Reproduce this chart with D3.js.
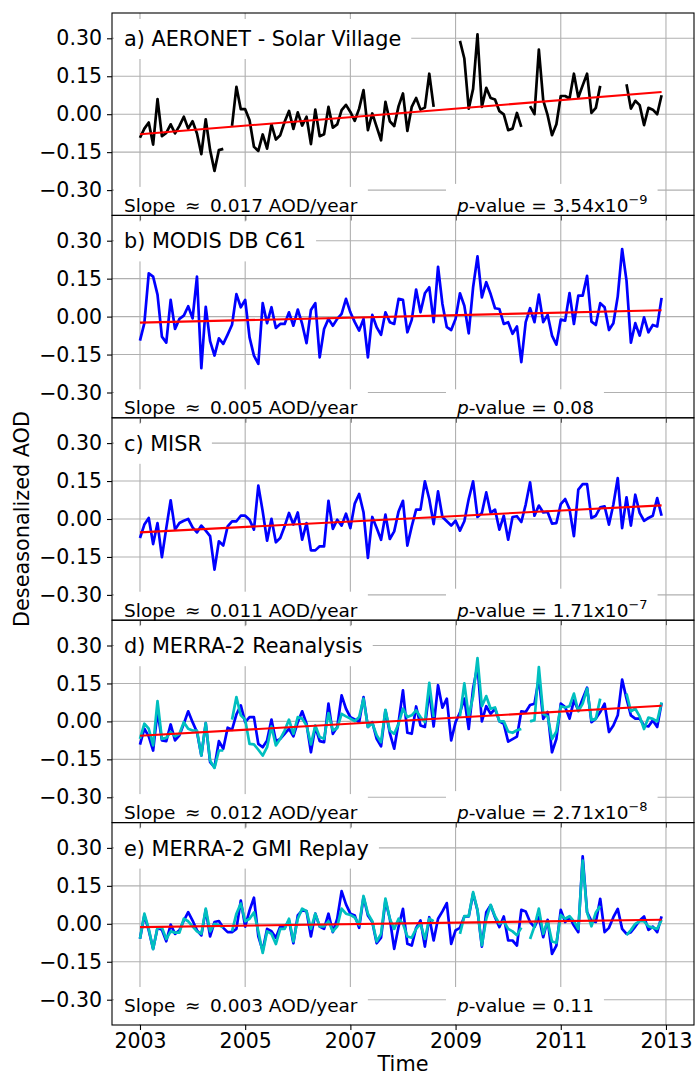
<!DOCTYPE html>
<html>
<head>
<meta charset="utf-8">
<script src="https://d3js.org/d3.v7.min.js"></script>
<style>
  body { margin: 0; background: #fff; }
  text { font-family: "DejaVu Sans", sans-serif; fill: #000; }
</style>
</head>
<body>
<script>
// monthly deseasonalized AOD, Jan 2003 - Dec 2012 (null = no data)
var startYear = 2003;

var aeronet = [-0.093, -0.057, -0.033, -0.12, 0.06, -0.087, -0.074, -0.04, -0.076, -0.046,
  -0.01, -0.057, -0.028, -0.076, -0.158, -0.02, -0.142, -0.224, -0.142, -0.137,
  null, -0.046, 0.108, 0.02, 0.02, -0.024, -0.129, -0.145, -0.08, -0.136,
  -0.04, -0.1, -0.083, -0.03, 0.013, -0.058, 0.007, -0.045, -0.01, -0.118,
  0.018, -0.087, -0.079, 0.029, -0.053, -0.04, 0.016, 0.037, 0.009, -0.026,
  0.022, 0.095, -0.063, 0.003, -0.05, -0.103, 0.049, -0.028, -0.047, 0.032,
  0.082, -0.066, 0.029, 0.064, 0.018, 0.026, 0.16, 0.029, null, null,
  null, null, null, 0.29, 0.22, 0.022, 0.1, 0.316, 0.029, 0.104,
  0.064, 0.058, 0.012, -0.001, -0.063, -0.057, 0.005, -0.05, null, 0.032,
  0.0, 0.255, 0.055, -0.004, -0.083, -0.04, 0.072, 0.072, 0.062, 0.16,
  0.066, 0.114, 0.16, 0.005, 0.025, 0.112, null, null, null, null,
  null, 0.118, 0.022, 0.053, 0.036, -0.043, 0.025, 0.018, 0.0, 0.075];

var modis = [-0.095, -0.026, 0.171, 0.158, 0.087, -0.079, -0.103, 0.066, -0.049, -0.009,
  0.004, 0.041, -0.007, 0.158, -0.204, 0.039, -0.097, -0.154, -0.086, -0.108,
  -0.071, -0.032, 0.089, 0.037, 0.066, -0.082, -0.154, -0.187, 0.053, -0.026,
  0.037, -0.045, -0.029, -0.029, 0.017, -0.036, 0.028, -0.029, -0.105, 0.026,
  0.053, -0.161, -0.049, -0.009, -0.036, -0.009, 0.011, 0.07, 0.017, -0.022,
  -0.055, -0.009, -0.161, 0.007, -0.042, -0.072, 0.017, -0.022, -0.029, 0.07,
  0.066, -0.062, -0.013, 0.107, 0.017, 0.092, 0.116, -0.022, 0.197, 0.05,
  -0.042, -0.053, -0.009, 0.092, 0.043, -0.066, 0.116, 0.238, 0.076, 0.136,
  0.089, 0.033, 0.03, -0.029, -0.022, -0.068, -0.039, -0.18, -0.022, 0.033,
  -0.022, 0.087, -0.022, 0.007, -0.075, -0.111, -0.012, -0.016, 0.093, -0.029,
  0.083, 0.083, 0.161, -0.02, -0.033, 0.053, 0.037, -0.053, -0.026, 0.08,
  0.267, 0.142, -0.103, -0.026, -0.075, -0.003, -0.062, -0.033, -0.039, 0.074];

var misr = [-0.075, -0.022, 0.004, -0.099, -0.016, -0.151, -0.036, 0.074, -0.042, -0.016,
  -0.007, 0.0, -0.033, -0.053, -0.026, -0.046, -0.068, -0.2, -0.088, -0.105,
  -0.029, -0.009, -0.009, 0.013, 0.013, -0.003, -0.042, 0.132, 0.03, -0.086,
  0.001, -0.092, -0.075, -0.029, 0.024, -0.022, 0.026, -0.082, -0.016, -0.124,
  -0.124, -0.108, -0.108, 0.072, -0.039, -0.003, -0.026, 0.021, -0.036, 0.061,
  0.099, 0.026, -0.154, 0.008, -0.036, -0.082, 0.017, -0.079, -0.049, 0.03,
  0.072, -0.105, -0.029, 0.037, 0.037, 0.149, 0.079, -0.02, 0.109, 0.008,
  -0.009, -0.026, -0.007, -0.046, -0.009, 0.079, 0.149, 0.008, 0.024, 0.105,
  0.024, 0.037, -0.042, 0.013, -0.082, 0.008, 0.011, -0.012, 0.057, 0.145,
  0.013, 0.053, 0.026, 0.028, -0.018, -0.016, 0.059, 0.079, 0.039, -0.068,
  0.116, 0.138, 0.138, 0.004, 0.013, 0.046, 0.05, -0.022, 0.057, 0.162,
  -0.036, 0.086, -0.026, 0.096, 0.024, -0.007, 0.004, 0.013, 0.083, 0.013];

var merra2 = [-0.092, -0.029, -0.059, -0.115, 0.04, -0.075, -0.078, -0.012, -0.075, -0.055,
  -0.009, 0.04, -0.003, -0.042, -0.135, -0.007, -0.161, -0.181, -0.078, -0.108,
  -0.025, -0.033, 0.028, 0.063, -0.003, 0.017, 0.017, -0.089, -0.102, -0.075,
  0.007, -0.078, -0.069, -0.049, -0.029, -0.059, -0.003, 0.04, -0.009, -0.122,
  -0.022, -0.078, -0.082, 0.07, -0.049, -0.022, 0.103, 0.05, 0.017, 0.008,
  -0.003, 0.096, -0.022, -0.003, -0.069, -0.099, 0.044, -0.046, -0.108, -0.003,
  0.123, -0.045, -0.049, 0.059, -0.016, -0.022, 0.12, -0.02, 0.143, 0.054,
  0.09, -0.075, -0.003, 0.035, 0.09, -0.03, 0.13, 0.22, 0.0, 0.06,
  0.03, 0.05, 0.0, -0.01, -0.08, -0.07, -0.06, 0.04, 0.037, 0.065,
  0.07, 0.17, 0.01, 0.037, -0.122, -0.069, 0.07, 0.057, 0.011, 0.083,
  0.044, 0.09, 0.133, -0.003, 0.011, 0.037, 0.07, -0.042, -0.016, 0.024,
  0.165, 0.09, 0.024, 0.011, 0.011, -0.016, -0.02, 0.004, -0.022, 0.073];

// MERRA-2 sampled at AERONET months
var merra2Site = [-0.069, -0.009, -0.029, -0.095, 0.08, -0.069, -0.065, -0.042, -0.059, -0.049,
  -0.003, -0.029, -0.036, -0.036, -0.135, -0.007, -0.155, -0.184, -0.115, -0.115,
  null, 0.007, 0.096, 0.024, 0.007, -0.089, -0.091, -0.112, -0.135, -0.102,
  -0.02, -0.095, -0.069, -0.036, 0.007, -0.049, 0.017, 0.011, -0.016, -0.091,
  -0.016, -0.062, -0.069, 0.033, -0.036, -0.026, 0.03, 0.02, 0.011, 0.001,
  0.017, 0.09, -0.022, -0.007, -0.055, -0.082, 0.046, -0.036, -0.049, -0.009,
  0.05, 0.017, 0.024, 0.044, 0.017, -0.003, 0.152, 0.017, null, null,
  null, null, null, 0.02, 0.15, 0.02, 0.1, 0.25, 0.06, 0.1,
  0.05, 0.055, 0.0, 0.0, -0.04, -0.045, -0.035, -0.03, null, 0.0,
  0.005, 0.215, 0.03, 0.02, -0.07, -0.04, 0.06, 0.055, 0.06, 0.11,
  0.04, 0.07, 0.13, 0.005, 0.01, 0.09, null, null, null, null,
  null, 0.11, 0.04, 0.05, 0.02, -0.03, 0.015, 0.01, 0.0, 0.075];

var gmi = [-0.059, 0.033, -0.026, -0.099, -0.016, -0.024, -0.069, -0.003, -0.04, -0.026,
  0.013, 0.046, 0.013, -0.026, -0.046, 0.055, -0.05, 0.007, 0.011, -0.016,
  -0.033, -0.033, -0.02, 0.092, -0.011, 0.053, 0.103, -0.05, -0.106, -0.02,
  -0.029, -0.055, -0.011, -0.016, 0.013, -0.077, 0.033, 0.053, 0.05, -0.05,
  0.04, -0.011, -0.02, 0.04, -0.033, 0.02, 0.129, 0.077, 0.04, 0.033,
  -0.016, 0.106, 0.033, 0.007, -0.077, -0.055, 0.092, 0.02, -0.099, -0.011,
  0.059, -0.079, -0.086, -0.016, 0.013, -0.09, 0.026, -0.066, 0.02, 0.049,
  0.082, -0.079, -0.026, -0.016, 0.029, 0.029, 0.119, 0.053, -0.09, 0.046,
  0.073, 0.026, -0.013, 0.029, -0.066, -0.066, -0.086, 0.055, 0.049, 0.007,
  -0.013, 0.026, -0.053, 0.016, -0.119, -0.086, 0.055, 0.007, 0.026, -0.007,
  -0.033, 0.267, 0.046, 0.011, 0.007, 0.099, -0.033, -0.016, 0.026, 0.059,
  -0.02, -0.04, -0.033, -0.011, 0.013, 0.029, -0.024, -0.011, -0.033, 0.029];

var gmiSite = [-0.059, 0.04, -0.02, -0.1, -0.015, -0.015, -0.06, -0.03, -0.035, -0.035,
  0.02, 0.01, -0.01, -0.03, -0.04, 0.06, -0.03, 0.0, -0.005, -0.015,
  null, -0.03, 0.04, 0.08, 0.01, 0.02, 0.045, -0.03, -0.115, -0.03,
  -0.04, -0.08, -0.02, -0.02, 0.02, -0.07, 0.02, 0.06, 0.05, -0.02,
  0.04, -0.01, -0.01, 0.01, -0.03, -0.01, 0.06, 0.04, 0.035, 0.025,
  -0.005, 0.11, 0.04, 0.01, -0.07, -0.04, 0.1, 0.02, -0.02, 0.02,
  0.0, -0.05, -0.055, -0.02, 0.0, -0.06, 0.02, 0.01, null, null,
  null, null, null, -0.04, 0.03, 0.03, 0.125, 0.055, -0.085, 0.02,
  0.075, 0.03, 0.0, 0.01, -0.02, -0.03, -0.045, -0.015, null, -0.06,
  -0.01, 0.06, -0.04, 0.01, -0.07, -0.075, 0.035, 0.02, 0.03, 0.01,
  -0.02, 0.25, 0.045, -0.01, 0.045, 0.07, null, null, null, null,
  null, -0.045, -0.025, 0.0, 0.01, 0.01, -0.01, -0.015, -0.02, 0.015];

// linear trend, value at first and last month
var trendStart = [-0.079, -0.024, -0.053, -0.057, -0.013];
var trendEnd = [0.088, 0.025, 0.054, 0.062, 0.016];

var panelTitles = ["a) AERONET - Solar Village", "b) MODIS DB C61", "c) MISR",
  "d) MERRA-2 Reanalysis", "e) MERRA-2 GMI Replay"];
var slopes = ["0.017", "0.005", "0.011", "0.012", "0.003"];
var pValues = ["3.54x10", "0.08", "1.71x10", "2.71x10", "0.11"];
var pExponents = ["\u22129", "", "\u22127", "\u22128", ""];

var xTicks = [2003, 2005, 2007, 2009, 2011, 2013];
var yTicks = [-0.30, -0.15, 0.00, 0.15, 0.30];

// Chart Params
var svgWidth = 696;
var svgHeight = 1077;
var margin = { top: 13, right: 2, bottom: 52, left: 112 };
var width = svgWidth - margin.left - margin.right;
var panelHeight = (svgHeight - margin.top - margin.bottom) / 5;

var panels = [
  [{ values: aeronet, color: "#000000" }],
  [{ values: modis, color: "#0000ff" }],
  [{ values: misr, color: "#0000ff" }],
  [{ values: merra2, color: "#0000ff" }, { values: merra2Site, color: "#00bfbf" }],
  [{ values: gmi, color: "#0000ff" }, { values: gmiSite, color: "#00bfbf" }]
];

var dates = aeronet.map((d, i) => startYear + i / 12);

// axis runs from a bit before the first month to a bit after the last one
var x = d3.scaleLinear()
  .domain([2002.468, 2013.533])
  .range([0, width]);

var y = d3.scaleLinear().domain([-0.4, 0.4]).range([panelHeight, 0]);

var svg = d3.select("body")
  .append("svg")
  .attr("width", svgWidth)
  .attr("height", svgHeight);

var line = d3.line()
  .defined(d => d != null)
  .x((d, j) => x(dates[j]))
  .y(d => y(d));

// white box behind a text, like a matplotlib bbox
function boxIt(g, t, pad) {
  var b = t.node().getBBox();
  g.insert("rect", function() { return t.node(); })
    .attr("x", b.x - pad)
    .attr("y", b.y - pad + 2)
    .attr("width", b.width + 2 * pad)
    .attr("height", b.height + 2 * pad - 4)
    .attr("fill", "#ffffff");
}

panels.forEach(function(series, i) {
  var g = svg.append("g")
    .attr("transform", `translate(${margin.left}, ${margin.top + i * panelHeight})`);

  // grid
  g.selectAll(".hgrid").data(yTicks).enter().append("line")
    .attr("x1", 0).attr("x2", width)
    .attr("y1", d => y(d)).attr("y2", d => y(d))
    .attr("stroke", "#b0b0b0").attr("stroke-width", 1.1);
  g.selectAll(".vgrid").data(xTicks).enter().append("line")
    .attr("x1", d => x(d)).attr("x2", d => x(d))
    .attr("y1", 0).attr("y2", panelHeight)
    .attr("stroke", "#b0b0b0").attr("stroke-width", 1.1);

  // data
  series.forEach(function(s) {
    g.append("path")
      .attr("d", line(s.values))
      .attr("fill", "none")
      .attr("stroke", s.color)
      .attr("stroke-width", 2.7)
      .attr("stroke-linejoin", "round");
  });

  // trend
  g.append("line")
    .attr("x1", x(dates[0])).attr("x2", x(dates[dates.length - 1]))
    .attr("y1", y(trendStart[i])).attr("y2", y(trendEnd[i]))
    .attr("stroke", "#ff0000").attr("stroke-width", 2.1);

  // texts
  var title = g.append("text")
    .attr("x", 12).attr("y", 33)
    .style("font-size", "20.8px")
    .text(panelTitles[i]);
  boxIt(g, title, 10);

  var ty = i == 4 ? panelHeight - 13 : panelHeight - 3.5;
  var st = g.append("text")
    .attr("x", 12).attr("y", ty)
    .style("font-size", "18.5px")
    .text("Slope \u2009\u2248\u2009 " + slopes[i] + " AOD/year");
  boxIt(g, st, 10);

  var pt = g.append("text")
    .attr("x", 345).attr("y", ty)
    .style("font-size", "18.5px");
  pt.append("tspan").style("font-style", "italic").text("p");
  pt.append("tspan").text("-value = " + pValues[i]);
  if (pExponents[i]) {
    pt.append("tspan").attr("dy", -8).style("font-size", "13px").text(pExponents[i]);
  }
  boxIt(g, pt, 10);

  // axes
  var ya = g.append("g")
    .call(d3.axisLeft(y).tickValues(yTicks).tickFormat(d3.format(".2f")).tickSize(5).tickPadding(5));
  ya.select(".domain").remove();
  ya.selectAll("text").style("font-size", "20.5px").style("font-family", "DejaVu Sans");
  ya.selectAll("line").attr("stroke-width", 1.1);

  var xa = g.append("g")
    .attr("transform", `translate(0, ${panelHeight})`)
    .call(d3.axisBottom(x).tickValues(xTicks).tickFormat(i == 4 ? d3.format("d") : "").tickSize(5).tickPadding(3));
  xa.select(".domain").remove();
  xa.selectAll("text").style("font-size", "20.5px").style("font-family", "DejaVu Sans");
  xa.selectAll("line").attr("stroke-width", 1.1);

  // frame
  g.append("rect")
    .attr("x", 0).attr("y", 0)
    .attr("width", width).attr("height", panelHeight)
    .attr("fill", "none").attr("stroke", "#000").attr("stroke-width", 1.1);
});

svg.append("text")
  .attr("transform", `translate(29, ${margin.top + 2.5 * panelHeight}) rotate(-90)`)
  .attr("text-anchor", "middle")
  .style("font-size", "20.8px")
  .text("Deseasonalized AOD");

svg.append("text")
  .attr("x", margin.left + width / 2)
  .attr("y", 1071)
  .attr("text-anchor", "middle")
  .style("font-size", "20.8px")
  .text("Time");
</script>
</body>
</html>
